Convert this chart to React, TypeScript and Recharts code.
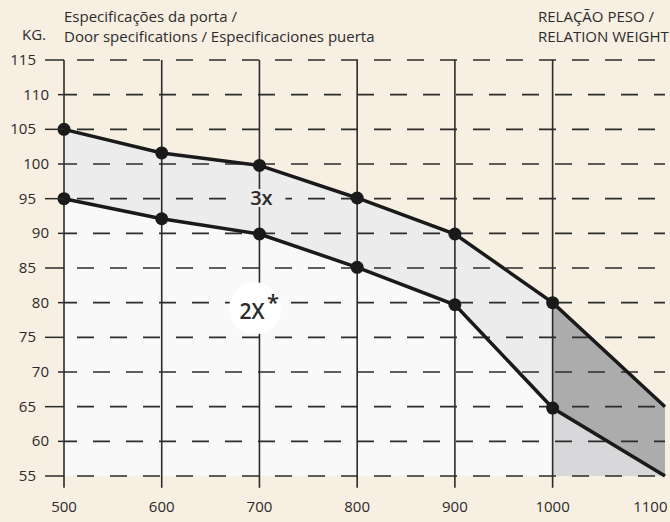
import React from "react";
import {
  ComposedChart,
  Area,
  Line,
  XAxis,
  YAxis,
  ReferenceLine,
  ReferenceDot,
} from "recharts";

// door width (mm) — last point is where the lines leave the cropped frame
const widths = [500, 600, 700, 800, 900, 1000, 1115];
const upperKg = [105, 101.6, 99.8, 95.1, 89.9, 80, 65];
const lowerKg = [95, 92.1, 89.9, 85.1, 79.7, 64.8, 55];
const xTicks = [500, 600, 700, 800, 900, 1000, 1100];
const yTicks = [55, 60, 65, 70, 75, 80, 85, 90, 95, 100, 105, 110, 115];
const splitAt = 1000;

const data = widths.map((w, i) => ({
  w,
  upper: upperKg[i],
  lower: lowerKg[i],
  upperL: w <= splitAt ? upperKg[i] : null,
  lowerL: w <= splitAt ? lowerKg[i] : null,
  upperR: w >= splitAt ? upperKg[i] : null,
  lowerR: w >= splitAt ? lowerKg[i] : null,
}));

const W = 670;
const H = 522;
const FONT = "'Open Sans', sans-serif";
const INK = "#2b2b2b";
const BG = "#f7efe2";
const BAND = "#ececec";

const YTick = (props: any) => {
  const { y, payload } = props;
  const odd = payload.value % 10 === 5;
  return (
    <g>
      <line x1={odd ? 45 : 58} x2={64} y1={y} y2={y} stroke={INK} strokeWidth={1.5} />
      <text
        x={odd ? 36 : 49}
        y={y}
        dy={5}
        textAnchor="end"
        fontSize={15}
        fontFamily={FONT}
        fill={INK}
      >
        {payload.value}
      </text>
    </g>
  );
};

const XTick = (props: any) => {
  const { x, y, payload } = props;
  return (
    <text x={x} y={y} dy={28} textAnchor="middle" fontSize={15} fontFamily={FONT} fill={INK}>
      {payload.value}
    </text>
  );
};

const dotFor = (props: any) => {
  const { cx, cy, index } = props;
  if (index === widths.length - 1 || cy == null) return <g key={`d-${index}`} />;
  return <circle key={`d-${index}`} cx={cx} cy={cy} r={6.5} fill="#1a1a1a" />;
};

export default function App() {
  return (
    <div
      style={{
        position: "absolute",
        left: 0,
        top: 0,
        width: W,
        height: H,
        background: BG,
        overflow: "hidden",
        fontFamily: FONT,
        color: INK,
      }}
    >
      <div style={{ position: "absolute", left: 22, top: 25, fontSize: 15, lineHeight: "19px" }}>KG.</div>
      <div style={{ position: "absolute", left: 64, top: 6, fontSize: 15, lineHeight: "20px", whiteSpace: "nowrap" }}>
        Especificações da porta /<br />
        Door specifications / Especificaciones puerta
      </div>
      <div
        style={{
          position: "absolute",
          left: 538,
          top: 6,
          fontSize: 15,
          lineHeight: "20px",
          whiteSpace: "nowrap",
        }}
      >
        RELAÇÃO PESO /<br />
        RELATION WEIGHT
      </div>

      {/* fills */}
      <div style={{ position: "absolute", left: 0, top: 0 }}>
        <ComposedChart width={W} height={H} data={data} margin={{ top: 60, right: 5, bottom: 46, left: 64 }}>
          <XAxis dataKey="w" type="number" domain={[500, 1115]} ticks={xTicks} hide />
          <YAxis type="number" domain={[55, 115]} ticks={yTicks} hide />
          <Area dataKey="upperL" baseValue={55} stroke="none" fill={BAND} fillOpacity={1} isAnimationActive={false} />
          <Area dataKey="upperR" baseValue={55} stroke="none" fill="#acacac" fillOpacity={1} isAnimationActive={false} />
          <Area dataKey="lowerL" baseValue={55} stroke="none" fill="#f9f9f9" fillOpacity={1} isAnimationActive={false} />
          <Area dataKey="lowerR" baseValue={55} stroke="none" fill="#d8d8da" fillOpacity={1} isAnimationActive={false} />
        </ComposedChart>
      </div>

      {/* grid, lines, labels */}
      <div style={{ position: "absolute", left: 0, top: 0 }}>
        <ComposedChart width={W} height={H} data={data} margin={{ top: 60, right: 5, bottom: 0, left: 0 }}>
          <XAxis
            dataKey="w"
            type="number"
            domain={[500, 1115]}
            ticks={xTicks}
            height={46}
            axisLine={false}
            tickLine={false}
            tick={<XTick />}
            interval={0}
          />
          <YAxis
            type="number"
            domain={[55, 115]}
            ticks={yTicks}
            width={64}
            axisLine={false}
            tickLine={false}
            tick={<YTick />}
            interval={0}
          />
          {yTicks.map((v) => (
            <ReferenceLine
              key={`h-${v}`}
              y={v}
              stroke={INK}
              strokeWidth={1.6}
              strokeDasharray="17 16"
              strokeDashoffset={v % 10 === 5 ? 20 : 4}
            />
          ))}
          {xTicks
            .filter((v) => v <= splitAt)
            .map((v) => (
              <ReferenceLine
                key={`v-${v}`}
                segment={[
                  { x: v, y: 115 },
                  { x: v, y: 53.3 },
                ]}
                stroke={INK}
                strokeWidth={1.6}
                ifOverflow="visible"
              />
            ))}
          <Line dataKey="upper" stroke="#1a1a1a" strokeWidth={3.5} dot={dotFor} activeDot={false} isAnimationActive={false} />
          <Line dataKey="lower" stroke="#1a1a1a" strokeWidth={3.5} dot={dotFor} activeDot={false} isAnimationActive={false} />
          <ReferenceDot
            x={702}
            y={95.1}
            r={0}
            ifOverflow="visible"
            shape={(p: any) => (
              <g>
                <rect x={p.cx - 24} y={p.cy - 9} width={48} height={18} fill={BAND} />
                <text x={p.cx} y={p.cy} dy={7} textAnchor="middle" fontSize={20} fontWeight={600} fontFamily={FONT} fill={INK}>
                  3x
                </text>
              </g>
            )}
          />
          <ReferenceDot
            x={695.5}
            y={79.2}
            r={26}
            ifOverflow="visible"
            shape={(p: any) => (
              <g>
                <circle cx={p.cx} cy={p.cy} r={26} fill="#ffffff" />
                <text x={p.cx - 3} y={p.cy} dy={11} textAnchor="middle" fontSize={21} fontWeight={600} fontFamily={FONT} fill={INK}>
                  2X
                </text>
                <text x={p.cx + 18} y={p.cy} dy={2} textAnchor="middle" fontSize={22} fontWeight={600} fontFamily={FONT} fill={INK}>
                  *
                </text>
              </g>
            )}
          />
        </ComposedChart>
      </div>
    </div>
  );
}
